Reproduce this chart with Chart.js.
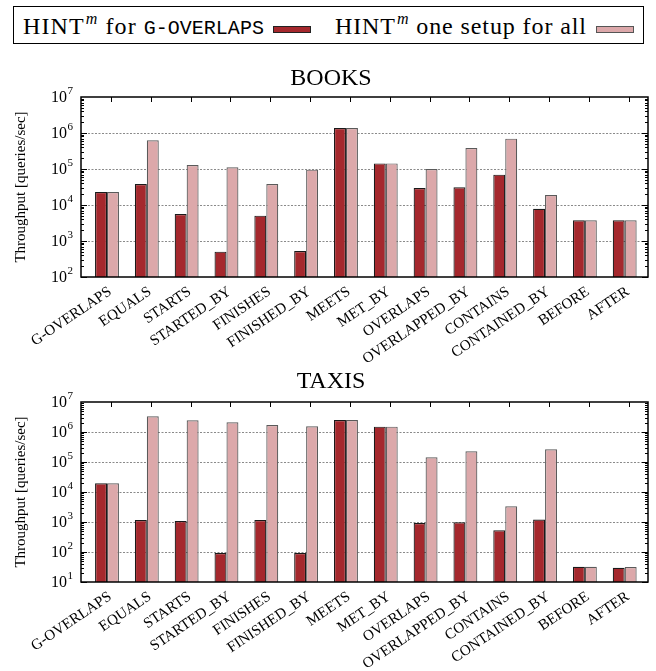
<!DOCTYPE html>
<html><head><meta charset="utf-8">
<script src="https://cdn.jsdelivr.net/npm/chart.js@4/dist/chart.umd.min.js"></script>
<style>
html,body{margin:0;padding:0;background:#fff;width:656px;height:671px;overflow:hidden;position:relative;}
#legend{position:absolute;left:13px;top:6px;width:629px;height:36px;border:1px solid #000;font-family:"Liberation Serif",serif;font-size:24px;color:#000;}
.item{position:absolute;top:7px;line-height:24px;white-space:nowrap;letter-spacing:1.1px;}
.item sup{font-size:16px;font-style:italic;line-height:0;vertical-align:0;position:relative;top:-10px;margin-left:1px;}
.mono{font-family:"Liberation Mono",monospace;font-size:20px;letter-spacing:0;}
.sw{position:absolute;top:19px;width:36px;height:5px;border:1px solid #222;}
canvas{position:absolute;left:0;}
</style></head>
<body>
<div id="legend">
 <span class="item" style="left:9px">HINT<sup>m</sup> for <span class="mono">G-OVERLAPS</span></span>
 <div class="sw" style="left:259px;background:#a5282d"></div>
 <span class="item" style="left:321px;letter-spacing:0.9px">HINT<sup>m</sup> one setup for all</span>
 <div class="sw" style="left:582px;background:#dca8aa;border-color:#555"></div>
</div>
<canvas id="c1" style="top:0;width:656px;height:380px"></canvas>
<canvas id="c2" style="top:355px;width:656px;height:316px"></canvas>
<script>
const categories = ['G-OVERLAPS','EQUALS','STARTS','STARTED_BY','FINISHES','FINISHED_BY','MEETS','MET_BY','OVERLAPS','OVERLAPPED_BY','CONTAINS','CONTAINED_BY','BEFORE','AFTER'];
const seriesNames = ['HINT^m for G-OVERLAPS', 'HINT^m one setup for all'];
const booksGOverlaps = [23000, 38300, 5600, 506, 5060, 527, 1380000, 143000, 29600, 31000, 69700, 7900, 3750, 3750];
const booksOneSetup  = [23000, 625000, 129000, 111000, 38300, 95800, 1380000, 143000, 100000, 383000, 697000, 19000, 3750, 3750];
const taxisGOverlaps = [19500, 1170, 1080, 92.6, 1170, 92.6, 2510000, 1510000, 926, 975, 527, 1200, 32.4, 30];
const taxisOneSetup  = [19500, 3330000, 2450000, 2100000, 1710000, 1550000, 2510000, 1510000, 143000, 227000, 3330, 264000, 32.4, 31.6];
const booksYTicks = [1e2, 1e3, 1e4, 1e5, 1e6, 1e7];
const taxisYTicks = [1e1, 1e2, 1e3, 1e4, 1e5, 1e6, 1e7];
const yTitle = 'Throughput [queries/sec]';

const SERIF = '"Liberation Serif", "Times New Roman", serif';
const LABEL_ANGLE = 34 * Math.PI / 180;

const framePlugin = {
  id: 'frame',
  beforeDatasetsDraw(chart, args, opts) {
    const {ctx, chartArea: a, scales: {y}} = chart;
    ctx.save();
    ctx.strokeStyle = '#8a8a8a';
    ctx.lineWidth = 1;
    ctx.setLineDash([2, 1.5]);
    opts.yTicks.forEach(v => {
      if (v <= y.min || v >= y.max) return;
      const py = Math.round(y.getPixelForValue(v)) + 0.5;
      ctx.beginPath(); ctx.moveTo(a.left, py); ctx.lineTo(a.right, py); ctx.stroke();
    });
    ctx.restore();
  },
  afterDraw(chart, args, opts) {
    const {ctx, chartArea: a, scales: {x, y}} = chart;
    ctx.save();
    ctx.strokeStyle = '#000';
    ctx.lineWidth = 1;
    const lo = Math.round(Math.log10(y.min)), hi = Math.round(Math.log10(y.max));
    for (let d = lo; d < hi; d++) {
      for (let m = 1; m <= 9; m++) {
        const v = m * Math.pow(10, d);
        const py = Math.round(y.getPixelForValue(v)) + 0.5;
        const len = m === 1 ? 6 : 3;
        ctx.beginPath();
        ctx.moveTo(a.left, py); ctx.lineTo(a.left + len, py);
        ctx.moveTo(a.right, py); ctx.lineTo(a.right - len, py);
        ctx.stroke();
      }
    }
    categories.forEach((c, i) => {
      const px = Math.round(x.getPixelForValue(i) + 4) + 0.5;
      ctx.beginPath(); ctx.moveTo(px, a.top); ctx.lineTo(px, a.top + 5); ctx.stroke();
    });
    ctx.lineWidth = 1.5;
    ctx.strokeRect(a.left, a.top, a.right - a.left, a.bottom - a.top);
    ctx.fillStyle = '#000';
    // y tick labels with superscript exponents
    opts.yTicks.forEach(v => {
      const py = y.getPixelForValue(v);
      const e = Math.round(Math.log10(v));
      ctx.font = '16px ' + SERIF;
      ctx.textAlign = 'right';
      ctx.textBaseline = 'alphabetic';
      ctx.fillText('10', a.left - 14, py + 5.3);
      ctx.font = '11px ' + SERIF;
      ctx.textAlign = 'left';
      ctx.fillText(String(e), a.left - 13.5, py - 3.3);
    });
    // rotated category labels
    ctx.font = '15px ' + SERIF;
    ctx.textAlign = 'right';
    ctx.textBaseline = 'alphabetic';
    categories.forEach((c, i) => {
      const px = x.getPixelForValue(i);
      ctx.save();
      ctx.translate(px + 5.3, a.bottom + 16.7);
      ctx.rotate(-LABEL_ANGLE);
      ctx.fillText(c, 0, 0);
      ctx.restore();
    });
    ctx.restore();
  }
};

function makeChart(id, title, gData, aData, yTicks, yMin, titlePad, xHeight) {
  return new Chart(document.getElementById(id), {
    type: 'bar',
    data: {
      datasets: [
        {label: seriesNames[0], data: gData.map((v, i) => ({x: i, y: v})), backgroundColor: '#a5282d', borderColor: '#1a1a1a', borderWidth: 1.2},
        {label: seriesNames[1], data: aData.map((v, i) => ({x: i, y: v})), backgroundColor: '#dca8aa', borderColor: '#5a5a5a', borderWidth: 1.2}
      ]
    },
    options: {
      responsive: false,
      animation: false,
      devicePixelRatio: 1,
      categoryPercentage: 0.6,
      barPercentage: 1.0,
      layout: {padding: {left: 14, right: 8, top: 0, bottom: 0}},
      plugins: {
        legend: {display: false},
        tooltip: {enabled: false},
        title: {display: true, text: title, color: '#000', font: {family: SERIF, size: 24, weight: 'normal', lineHeight: 1.2}, padding: titlePad},
        frame: {yTicks: yTicks}
      },
      scales: {
        x: {
          type: 'linear', min: -0.653, max: 13.585, offset: false,
          grid: {display: false}, border: {display: false},
          afterBuildTicks: s => { s.ticks = categories.map((c, i) => ({value: i})); },
          afterFit: s => { s.height = xHeight; },
          ticks: {display: false}
        },
        y: {
          type: 'logarithmic', min: yMin, max: 1e7,
          afterBuildTicks: s => { s.ticks = yTicks.map(v => ({value: v})); },
          afterFit: s => { s.width = 67; },
          grid: {display: false}, border: {display: false},
          ticks: {display: false},
          title: {display: true, text: yTitle, color: '#000', font: {family: SERIF, size: 15}, padding: {top: -2, bottom: 0}}
        }
      }
    },
    plugins: [framePlugin]
  });
}
const c1 = document.getElementById('c1'); c1.width = 656; c1.height = 380;
const c2 = document.getElementById('c2'); c2.width = 656; c2.height = 316;
makeChart('c1', 'BOOKS', booksGOverlaps, booksOneSetup, booksYTicks, 1e2, {top: 64.1, bottom: 4.1}, 103);
makeChart('c2', 'TAXIS', taxisGOverlaps, taxisOneSetup, taxisYTicks, 1e1, {top: 12.1, bottom: 6.1}, 89);
</script>
</body></html>
